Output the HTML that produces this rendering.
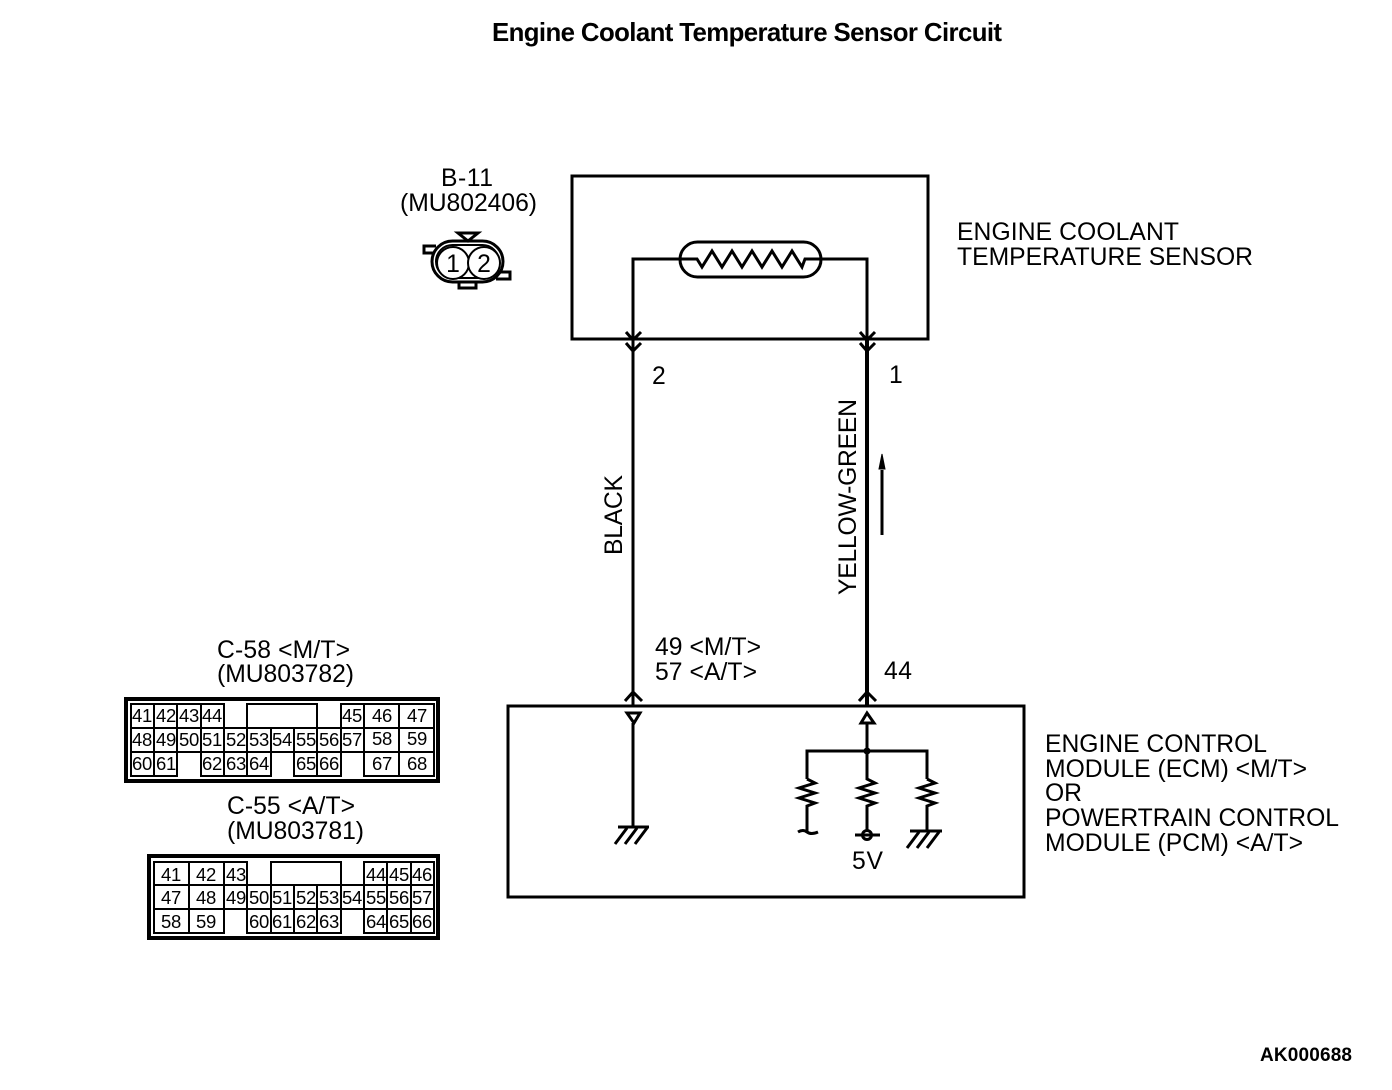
<!DOCTYPE html>
<html><head><meta charset="utf-8"><style>
html,body{margin:0;padding:0;background:#fff}
svg{display:block}
text{font-family:"Liberation Sans",sans-serif;font-size:24.7px;fill:#000}
.s{font-size:18.5px;text-anchor:middle;letter-spacing:-0.3px}
.b{font-weight:bold}
.l{fill:none;stroke:#000;stroke-width:3}
.o{fill:none;stroke:#000;stroke-width:4}
.t{fill:none;stroke:#000;stroke-width:2}
</style></head><body>
<svg width="1392" height="1090" viewBox="0 0 1392 1090" xmlns="http://www.w3.org/2000/svg">
<text x="492" y="41" class="b" textLength="510" style="font-size:25.8px">Engine Coolant Temperature Sensor Circuit</text>

<!-- B-11 -->
<text x="441" y="186" textLength="52">B-11</text>
<text x="400" y="211" textLength="137">(MU802406)</text>
<g style="fill:none;stroke:#000;stroke-width:3">
<path d="M458 233H478L468 241Z"/>
<path d="M436 246H424V253H434"/>
<path d="M498 272H510V279H496"/>
<path d="M459 282V288H476V282"/>
<rect x="432" y="241" width="71" height="41" rx="20.5"/>
<rect x="436" y="245" width="63" height="33" rx="16.5" style="stroke-width:2"/>
<circle cx="453" cy="263" r="16" fill="#fff" style="stroke-width:2"/>
<circle cx="484" cy="263" r="16" fill="#fff" style="stroke-width:2"/>
</g>
<text x="453" y="272" text-anchor="middle">1</text>
<text x="484" y="272" text-anchor="middle">2</text>

<!-- Sensor box -->
<rect x="572" y="176" width="356" height="163" class="l"/>
<rect x="680" y="242" width="141" height="35" rx="17.5" class="l"/>
<path class="l" d="M680 259H633V705M821 259H867V705"/>
<path d="M867 340V705" fill="none" stroke="#000" stroke-width="4"/>
<path class="l" d="M680 259H697L702 267L712 251L722 267L732 251L742 267L752 251L762 267L772 251L782 267L792 251L802 267L805 259H821"/>
<path class="l" d="M626 332L633 340L641 332M626 343L633 351L641 343M860 332L867 340L875 332M860 343L867 351L875 343"/>
<text x="957" y="240" textLength="222">ENGINE COOLANT</text>
<text x="957" y="265" textLength="296">TEMPERATURE SENSOR</text>
<text x="652" y="384">2</text>
<text x="889" y="383">1</text>

<text transform="translate(622 555) rotate(-90)" textLength="80">BLACK</text>
<text transform="translate(856 595) rotate(-90)" textLength="196">YELLOW-GREEN</text>

<!-- Arrow -->
<path d="M882 535V470" stroke="#000" stroke-width="3" fill="none"/>
<path d="M882 454L885 469H879Z" fill="#000" stroke="#000"/>

<text x="655" y="655" textLength="106">49 &lt;M/T&gt;</text>
<text x="655" y="680" textLength="102">57 &lt;A/T&gt;</text>
<text x="884" y="679" textLength="28">44</text>

<!-- ECM box -->
<rect x="508" y="706" width="516" height="191" class="l"/>
<path class="l" d="M625 701L633 692L642 701M859 701L867 692L876 701"/>
<path class="l" d="M627 713H640L634 723ZM861 723H874L867 713Z"/>
<path class="l" d="M633 723V827M618 827H649M627 828L615 844M637 828L625 844M647 828L635 844"/>
<path class="l" d="M867 723V779L875 783L859 788L875 793L859 798L875 803L867 806V830"/>
<path class="l" d="M807 779V751H927V779"/>
<path class="l" d="M807 779L815 783L799 788L815 793L799 798L815 803L807 806V831M798 832Q803 829 807 832T818 832"/>
<path class="l" d="M927 779L935 783L919 788L935 793L919 798L935 803L927 806V831M910 831H942M919 832L907 848M929 832L917 848M939 832L927 848"/>
<circle cx="867" cy="751" r="3.5" fill="#000"/>
<circle cx="867" cy="835" r="4.5" class="l"/>
<path class="l" d="M855 835H880"/>
<text x="852" y="869" textLength="31">5V</text>

<text x="1045" y="752" textLength="222">ENGINE CONTROL</text>
<text x="1045" y="777" textLength="262">MODULE (ECM) &lt;M/T&gt;</text>
<text x="1045" y="801" textLength="37">OR</text>
<text x="1045" y="826" textLength="294">POWERTRAIN CONTROL</text>
<text x="1045" y="851" textLength="258">MODULE (PCM) &lt;A/T&gt;</text>

<!-- C-58 -->
<text x="217" y="658" textLength="133">C-58 &lt;M/T&gt;</text>
<text x="217" y="682" textLength="137">(MU803782)</text>
<rect x="126" y="699" width="312" height="82" class="o"/>
<path class="t" d="M131 704H224V728H131ZM154 704V728M177 704V728M201 704V728M247 704H317V728H247ZM341 704H434V728H341ZM364 704V728M399 704V728"/>
<path class="t" d="M131 728H434V752H131ZM154 728V752M177 728V752M201 728V752M224 728V752M247 728V752M271 728V752M294 728V752M317 728V752M341 728V752M364 728V752M399 728V752"/>
<path class="t" d="M131 752V776H177V752M154 752V776M201 752V776H271V752M224 752V776M247 752V776M294 752V776H341V752M317 752V776M364 752V776H434V752M399 752V776"/>
<g>
<text class="s" x="142" y="722">41</text><text class="s" x="166" y="722">42</text><text class="s" x="189" y="722">43</text><text class="s" x="212" y="722">44</text><text class="s" x="352" y="722">45</text><text class="s" x="382" y="722">46</text><text class="s" x="417" y="722">47</text>
<text class="s" x="142" y="746">48</text><text class="s" x="166" y="746">49</text><text class="s" x="189" y="746">50</text><text class="s" x="212" y="746">51</text><text class="s" x="236" y="746">52</text><text class="s" x="259" y="746">53</text><text class="s" x="282" y="746">54</text><text class="s" x="306" y="746">55</text><text class="s" x="329" y="746">56</text><text class="s" x="352" y="746">57</text><text class="s" x="382" y="745">58</text><text class="s" x="417" y="745">59</text>
<text class="s" x="142" y="770">60</text><text class="s" x="166" y="770">61</text><text class="s" x="212" y="770">62</text><text class="s" x="236" y="770">63</text><text class="s" x="259" y="770">64</text><text class="s" x="306" y="770">65</text><text class="s" x="329" y="770">66</text><text class="s" x="382" y="770">67</text><text class="s" x="417" y="770">68</text>
</g>

<!-- C-55 -->
<text x="227" y="814" textLength="128">C-55 &lt;A/T&gt;</text>
<text x="227" y="839" textLength="137">(MU803781)</text>
<rect x="149" y="856" width="289" height="82" class="o"/>
<path class="t" d="M154 862H247V885H154ZM189 862V885M224 862V885M271 862H341V885H271ZM364 862H434V885H364ZM387 862V885M411 862V885"/>
<path class="t" d="M154 885H434V909H154ZM189 885V909M224 885V909M247 885V909M271 885V909M294 885V909M317 885V909M341 885V909M364 885V909M387 885V909M411 885V909"/>
<path class="t" d="M154 909V933H224V909M189 909V933M247 909V933H341V909M271 909V933M294 909V933M317 909V933M364 909V933H434V909M387 909V933M411 909V933"/>
<g>
<text class="s" x="171" y="881">41</text><text class="s" x="206" y="881">42</text><text class="s" x="236" y="881">43</text><text class="s" x="376" y="881">44</text><text class="s" x="399" y="881">45</text><text class="s" x="422" y="881">46</text>
<text class="s" x="171" y="904">47</text><text class="s" x="206" y="904">48</text><text class="s" x="236" y="904">49</text><text class="s" x="259" y="904">50</text><text class="s" x="282" y="904">51</text><text class="s" x="306" y="904">52</text><text class="s" x="329" y="904">53</text><text class="s" x="352" y="904">54</text><text class="s" x="376" y="904">55</text><text class="s" x="399" y="904">56</text><text class="s" x="422" y="904">57</text>
<text class="s" x="171" y="928">58</text><text class="s" x="206" y="928">59</text><text class="s" x="259" y="928">60</text><text class="s" x="282" y="928">61</text><text class="s" x="306" y="928">62</text><text class="s" x="329" y="928">63</text><text class="s" x="376" y="928">64</text><text class="s" x="399" y="928">65</text><text class="s" x="422" y="928">66</text>
</g>

<text x="1260" y="1061" class="b" textLength="92" style="font-size:19px">AK000688</text>
</svg>
</body></html>
